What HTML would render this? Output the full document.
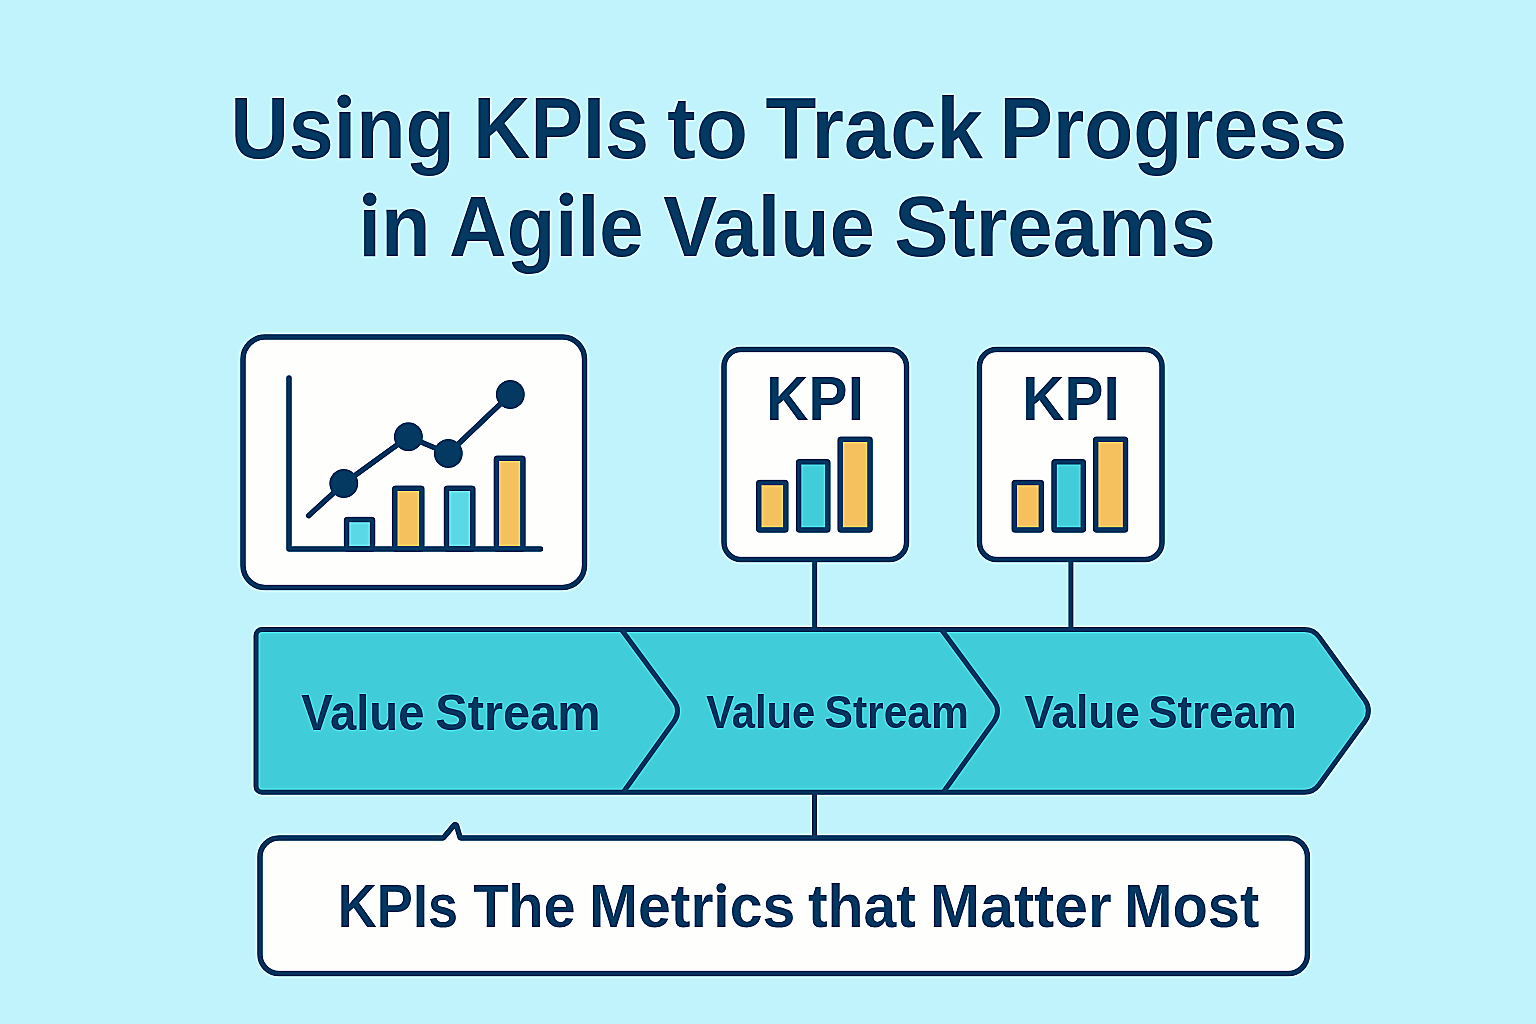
<!DOCTYPE html>
<html>
<head>
<meta charset="utf-8">
<title>Using KPIs to Track Progress in Agile Value Streams</title>
<style>
html,body{margin:0;padding:0;width:1536px;height:1024px;overflow:hidden;background:#c1f3fd;}
svg{display:block;}
text{font-family:"Liberation Sans", sans-serif;font-weight:bold;fill:#043962;}
</style>
</head>
<body>
<svg width="1536" height="1024" viewBox="0 0 1536 1024">
<defs>
<filter id="sharp" x="-30" y="-30" width="1596" height="1084" filterUnits="userSpaceOnUse" color-interpolation-filters="sRGB">
<feGaussianBlur in="SourceGraphic" stdDeviation="0.8" result="b"/>
<feComposite in="SourceGraphic" in2="b" operator="arithmetic" k1="0" k2="2.0" k3="-1.0" k4="0"/>
</filter>
</defs>
<g filter="url(#sharp)">
<rect x="-30" y="-30" width="1596" height="1084" fill="#c1f3fd"/>

<!-- Title -->
<g>
<text x="230.56" y="158.1" font-size="87.07" textLength="224.33" lengthAdjust="spacingAndGlyphs">Using</text>
<text x="473.35" y="158.1" font-size="87.07" textLength="175.65" lengthAdjust="spacingAndGlyphs">KPIs</text>
<text x="667.22" y="158.1" font-size="86.9" textLength="80.75" lengthAdjust="spacingAndGlyphs">to</text>
<text x="765.45" y="158.1" font-size="87.07" textLength="217.22" lengthAdjust="spacingAndGlyphs">Track</text>
<text x="999.47" y="158.1" font-size="87.07" textLength="347.75" lengthAdjust="spacingAndGlyphs">Progress</text>
<text x="358.46" y="255.8" font-size="86.2" textLength="72.0" lengthAdjust="spacingAndGlyphs">in</text>
<text x="449.35" y="255.8" font-size="85.76" textLength="194.11" lengthAdjust="spacingAndGlyphs">Agile</text>
<text x="663.26" y="255.8" font-size="85.76" textLength="211.43" lengthAdjust="spacingAndGlyphs">Value</text>
<text x="894.15" y="255.8" font-size="85.76" textLength="321.62" lengthAdjust="spacingAndGlyphs">Streams</text>
<rect x="336" y="92" width="17" height="15" fill="#c1f3fd"/>
<rect x="361" y="190" width="17" height="15" fill="#c1f3fd"/>
<rect x="558" y="191" width="17" height="15" fill="#c1f3fd"/>
<circle cx="344.2" cy="101.2" r="6.8" fill="#043962"/>
<circle cx="369.7" cy="199.3" r="6.8" fill="#043962"/>
<circle cx="566.4" cy="199.3" r="6.8" fill="#043962"/>
</g>

<!-- Chart box -->
<rect x="243" y="337" width="341.5" height="250.5" rx="22" fill="#fefefc" stroke="#043962" stroke-width="5.5"/>
<g stroke="#043962" stroke-width="5.5" stroke-linejoin="round">
  <rect x="346.5" y="519.4" width="26.1" height="29.6" rx="1" fill="#5bd8e6"/>
  <rect x="394.75" y="488.15" width="27.1" height="60.85" rx="1" fill="#f5c15f"/>
  <rect x="446.45" y="488.15" width="26.4" height="60.85" rx="1" fill="#5bd8e6"/>
  <rect x="496.35" y="458.15" width="26.6" height="90.85" rx="1" fill="#f5c15f"/>
</g>
<path d="M289 378 L289 549 L540.5 549" fill="none" stroke="#043962" stroke-width="5.5" stroke-linecap="round" stroke-linejoin="round"/>
<polyline points="308.6,515.7 343.8,483.6 408.4,436.8 448.3,453.5 510.3,394.5" fill="none" stroke="#043962" stroke-width="5.5" stroke-linecap="round" stroke-linejoin="round"/>
<g fill="#043962">
  <circle cx="343.8" cy="483.6" r="14.5"/>
  <circle cx="408.4" cy="436.8" r="14.5"/>
  <circle cx="448.3" cy="453.5" r="14.5"/>
  <circle cx="510.3" cy="394.5" r="14.5"/>
</g>

<!-- KPI boxes -->
<g>
  <rect x="724" y="349.5" width="182.5" height="210" rx="17" fill="#fefefc" stroke="#043962" stroke-width="5.5"/>
  <g stroke="#043962" stroke-width="5.5" stroke-linejoin="round">
    <rect x="758.75" y="482.45" width="27.1" height="47.5" rx="1" fill="#f5c15f"/>
    <rect x="798.55" y="461.75" width="29.3" height="68.2" rx="1" fill="#40ccd8"/>
    <rect x="840.15" y="439.35" width="29.9" height="90.6" rx="1" fill="#f5c15f"/>
  </g>
</g>
<g transform="translate(255.5,0)">
  <rect x="724" y="349.5" width="182.5" height="210" rx="17" fill="#fefefc" stroke="#043962" stroke-width="5.5"/>
  <g stroke="#043962" stroke-width="5.5" stroke-linejoin="round">
    <rect x="758.75" y="482.45" width="27.1" height="47.5" rx="1" fill="#f5c15f"/>
    <rect x="798.55" y="461.75" width="29.3" height="68.2" rx="1" fill="#40ccd8"/>
    <rect x="840.15" y="439.35" width="29.9" height="90.6" rx="1" fill="#f5c15f"/>
  </g>
</g>
<text x="766.33" y="420" font-size="63.81" textLength="97.57" lengthAdjust="spacingAndGlyphs">KPI</text>
<text x="1022.33" y="420.1" font-size="63.66" textLength="97.35" lengthAdjust="spacingAndGlyphs">KPI</text>

<!-- connectors -->
<g stroke="#043962" stroke-width="5">
  <line x1="814.7" y1="559" x2="814.7" y2="630"/>
  <line x1="1070.9" y1="559" x2="1070.9" y2="630"/>
  <line x1="814.5" y1="792" x2="814.5" y2="838"/>
</g>

<!-- Value stream arrow -->
<path d="M256 635.4 A6 6 0 0 1 262 629.4 L1304.51 629.4 A18 18 0 0 1 1319.09 636.85 L1364.96 700.24 A18 18 0 0 1 1364.95 721.35 L1318.99 784.76 A18 18 0 0 1 1304.42 792.2 L262 792.2 A6 6 0 0 1 256 786.2 Z" fill="#40ccd8" stroke="#043962" stroke-width="5" stroke-linejoin="round"/>
<path d="M621.4 629.4 L674.17 700.96 A17 17 0 0 1 674.31 720.94 L623.3 792.2" fill="none" stroke="#043962" stroke-width="5"/>
<path d="M941.4 629.4 L994.17 700.96 A17 17 0 0 1 994.31 720.94 L943.3 792.2" fill="none" stroke="#043962" stroke-width="5"/>
<text x="301.14" y="730" font-size="49.06" textLength="123.24" lengthAdjust="spacingAndGlyphs">Value</text>
<text x="435.31" y="730" font-size="49.06" textLength="165.28" lengthAdjust="spacingAndGlyphs">Stream</text>
<text x="706.29" y="728.4" font-size="45.64" textLength="109.03" lengthAdjust="spacingAndGlyphs">Value</text>
<text x="824.53" y="728.4" font-size="45.64" textLength="144.39" lengthAdjust="spacingAndGlyphs">Stream</text>
<text x="1024.24" y="728.4" font-size="46.22" textLength="115.55" lengthAdjust="spacingAndGlyphs">Value</text>
<text x="1148.2" y="728.4" font-size="46.22" textLength="148.57" lengthAdjust="spacingAndGlyphs">Stream</text>

<!-- Callout -->
<path d="M260 856.9 A19 19 0 0 1 279 837.9 L442.93 837.9 A1 1 0 0 0 443.7 837.54 L454 825.16 A1.5 1.5 0 0 1 456.6 825.69 L459.99 837.18 A1 1 0 0 0 460.95 837.9 L1288.4 837.9 A19 19 0 0 1 1307.4 856.9 L1307.4 954.5 A19 19 0 0 1 1288.4 973.5 L279 973.5 A19 19 0 0 1 260 954.5 Z" fill="#fefefc" stroke="#043962" stroke-width="5.5" stroke-linejoin="round"/>
<text x="337.81" y="927.3" font-size="60.32" textLength="120.27" lengthAdjust="spacingAndGlyphs">KPIs</text>
<text x="473.14" y="927.3" font-size="60.32" textLength="102.49" lengthAdjust="spacingAndGlyphs">The</text>
<text x="588.89" y="927.3" font-size="60.32" textLength="206.45" lengthAdjust="spacingAndGlyphs">Metrics</text>
<text x="808.02" y="927.3" font-size="60.3" textLength="107.79" lengthAdjust="spacingAndGlyphs">that</text>
<text x="929.78" y="927.3" font-size="60.32" textLength="181.69" lengthAdjust="spacingAndGlyphs">Matter</text>
<text x="1124.26" y="927.3" font-size="60.32" textLength="135.13" lengthAdjust="spacingAndGlyphs">Most</text>
<rect x="716" y="882" width="11" height="10" fill="#fefefc"/>
<circle cx="721.2" cy="888" r="4.8" fill="#043962"/>
</g>
</svg>
</body>
</html>
